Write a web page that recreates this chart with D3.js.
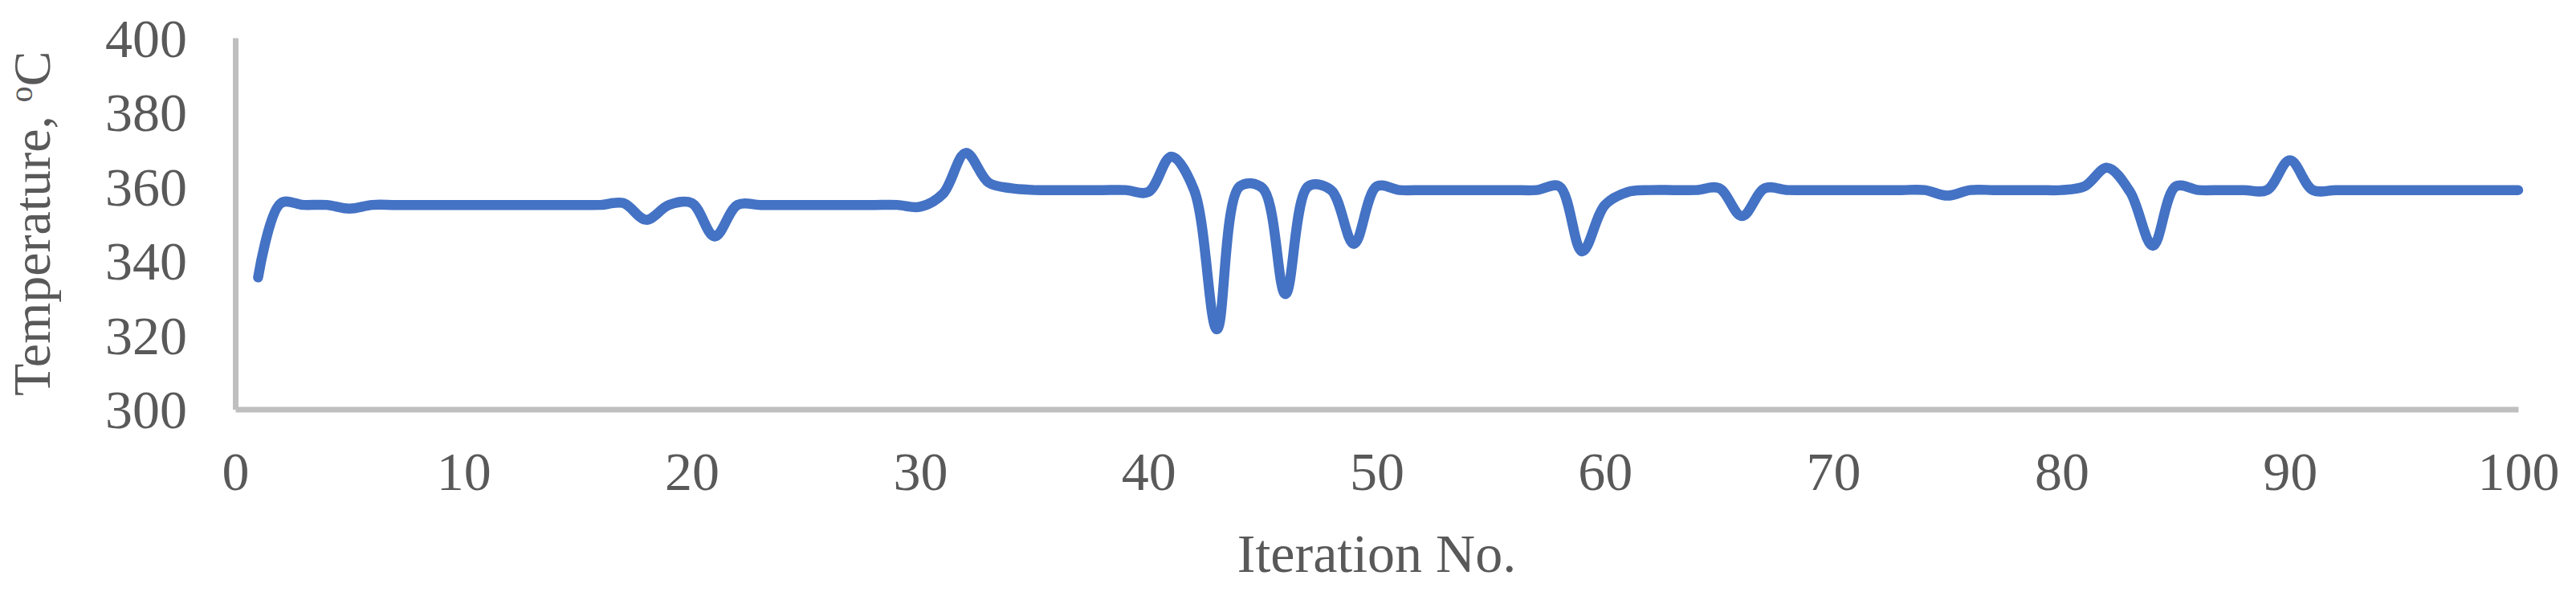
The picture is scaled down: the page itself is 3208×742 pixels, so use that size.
<!DOCTYPE html>
<html>
<head>
<meta charset="utf-8">
<script src="https://cdn.jsdelivr.net/npm/d3@7/dist/d3.min.js"></script>
<style>
  html, body { margin: 0; padding: 0; background: #ffffff; }
  svg { display: block; }
</style>
</head>
<body>
<svg id="chart" width="3208" height="742"></svg>
<script>
// ---- data ----
const iterations = d3.range(1, 101);
const temperature = [
  335.5, 355.5, 355, 355, 354, 355, 355, 355, 355, 355,
  355, 355, 355, 355, 355, 355, 355.5, 351, 355, 355.5,
  346.5, 355, 355, 355, 355, 355, 355, 355, 355, 354.5,
  358, 369, 361, 359.5, 359, 359, 359, 359, 359, 358.5,
  368, 359, 321.5, 360, 359.5, 331, 360, 359, 344.5, 360,
  359, 359, 359, 359, 359, 359, 359, 360, 342.5, 355,
  358.5, 359, 359, 359, 359.5, 352, 359.5, 359, 359, 359,
  359, 359, 359, 359, 357.5, 359, 359, 359, 359, 359,
  360, 365, 358.5, 344, 360, 359, 359, 359, 359, 367,
  359, 359, 359, 359, 359, 359, 359, 359, 359, 359
];
const xTicks = [0, 10, 20, 30, 40, 50, 60, 70, 80, 90, 100];
const yTicks = [300, 320, 340, 360, 380, 400];
const xTitle = "Iteration No.";
const yTitleMain = "Temperature, ";
const yTitleSup = "o";
const yTitleUnit = "C";

// ---- layout ----
const svg = d3.select("#chart");
const font = "'Liberation Serif', 'Times New Roman', serif";
const textColor = "#595959";
const axisColor = "#BFBFBF";
const lineColor = "#4472C4";
const fontSize = 68;

const x = d3.scaleLinear().domain([0, 100]).range([293, 3136]);
const y = d3.scaleLinear().domain([300, 400]).range([509.5, 47]);

svg.append("rect").attr("width", 3208).attr("height", 742).attr("fill", "#ffffff");

// Y axis
const gy = svg.append("g")
  .attr("transform", `translate(${x(0)},0)`)
  .call(d3.axisLeft(y).tickValues(yTicks).tickSize(0).tickSizeOuter(0).tickPadding(60).tickFormat(d3.format("d")));
gy.select(".domain").attr("stroke", axisColor).attr("stroke-width", 7);
gy.selectAll(".tick text")
  .attr("fill", textColor)
  .attr("font-family", font)
  .attr("font-size", fontSize)
  .attr("dy", "0.34em");

// X axis
const gx = svg.append("g")
  .attr("transform", `translate(0,${y(300)})`)
  .call(d3.axisBottom(x).tickValues(xTicks).tickSize(0).tickSizeOuter(0).tickFormat(d3.format("d")));
gx.select(".domain").attr("stroke", axisColor).attr("stroke-width", 7);
gx.selectAll(".tick text")
  .attr("fill", textColor)
  .attr("font-family", font)
  .attr("font-size", fontSize)
  .attr("y", 100.5)
  .attr("dy", 0);

// Data line
const line = d3.line()
  .x((d, i) => x(iterations[i]))
  .y(d => y(d))
  .curve(d3.curveCatmullRom.alpha(0.5));

svg.append("path")
  .datum(temperature)
  .attr("d", line)
  .attr("fill", "none")
  .attr("stroke", lineColor)
  .attr("stroke-width", 12.5)
  .attr("stroke-linecap", "round")
  .attr("stroke-linejoin", "round");

// X title
svg.append("text")
  .attr("x", (x(0) + x(100)) / 2)
  .attr("y", 712)
  .attr("text-anchor", "middle")
  .attr("fill", textColor)
  .attr("font-family", font)
  .attr("font-size", fontSize)
  .text(xTitle);

// Y title
const yt = svg.append("text")
  .attr("transform", `translate(62,${(y(300) + y(400)) / 2}) rotate(-90)`)
  .attr("text-anchor", "middle")
  .attr("fill", textColor)
  .attr("font-family", font)
  .attr("font-size", 66);
yt.append("tspan").text(yTitleMain);
yt.append("tspan").attr("font-size", 40).attr("dy", -22).text(yTitleSup);
yt.append("tspan").attr("dy", 22).text(yTitleUnit);
</script>
</body>
</html>
